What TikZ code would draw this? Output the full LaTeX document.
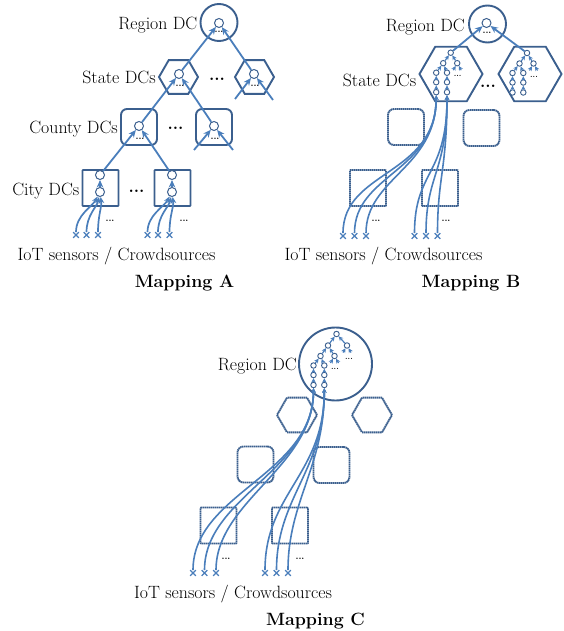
\documentclass[tikz,border=0pt]{standalone}
\usepackage{tikz}
\usetikzlibrary{shapes.geometric, shapes.misc, arrows.meta, positioning}

\definecolor{dcblue}{HTML}{3B5F8E}
\definecolor{linkblue}{HTML}{4A7EBB}

\tikzset{
  minitree/.pic={
    \node[mnode] (-r) at (0,0) {};
    \node[mnode] (-a) at (-7.5,10.5) {};
    \node[mnode] (-b) at (6.5,10.5) {};
    \node[mnode] (-c) at (-14.5,20) {};
    \node[mnode] (-d) at (-3.7,20) {};
    \node[mnode] (-e) at (-14.5,29.5) {};
    \node[mnode] (-f) at (-3.7,29.5) {};
    \node[mnode] (-g) at (-14.5,39.5) {};
    \node[mnode] (-h) at (-3.7,39.5) {};
    \node[mdots] (-dots) at (7,23.5) {...};
    \coordinate (-bl) at (2.5,17.5);
    \coordinate (-br) at (10.5,17.5);
    \draw[mlink] (-a) -- (-r);
    \draw[mlink] (-b) -- (-r);
    \draw[mlink] (-bl) -- (-b);
    \draw[mlink] (-br) -- (-b);
    \draw[mlink] (-c) -- (-a);
    \draw[mlink] (-d) -- (-a);
    \draw[mlink] (-e) -- (-c);
    \draw[mlink] (-f) -- (-d);
    \draw[mlink] (-g) -- (-e);
    \draw[mlink] (-h) -- (-f);
  }
}

\begin{document}
\begin{tikzpicture}[x=1pt, y=-1pt,
  lab/.style={font=\fontsize{17.8}{21}\selectfont, inner sep=1pt},
  title/.style={font=\fontsize{17.8}{21}\selectfont\bfseries, inner sep=1pt},
  bigdots/.style={font=\fontsize{17}{20}\selectfont\bfseries, inner sep=0pt},
  sdots/.style={font=\fontsize{9}{9}\selectfont\bfseries, inner sep=0pt},
  mdots/.style={font=\fontsize{7}{7}\selectfont\bfseries, inner sep=0pt},
  solidbox/.style={draw=dcblue, line width=1.9pt, inner sep=0pt},
  dotbox/.style={draw=dcblue, line width=1.9pt, inner sep=0pt, line join=round, dash pattern=on 1.5pt off 0.5pt},
  regionshape/.style={circle},
  hexshape/.style={regular polygon, regular polygon sides=6},
  countyshape/.style={rectangle, rounded corners=6pt, minimum size=36pt},
  cityshape/.style={rectangle, rounded corners=0.6pt, minimum size=36pt},
  dcnode/.style={circle, draw=dcblue, fill=white, line width=1pt, minimum size=9pt, inner sep=0pt},
  mnode/.style={circle, draw=dcblue, fill=white, line width=0.9pt, minimum size=5.5pt, inner sep=0pt},
  link/.style={draw=linkblue, line width=1.8pt, -{Stealth[length=7.5pt, width=6.5pt]}},
  mlink/.style={draw=linkblue, line width=1.2pt, -{Stealth[length=4.5pt, width=4.5pt]}},
  slink/.style={draw=linkblue, line width=1.7pt, -{Stealth[length=6.5pt, width=5.5pt]}},
  sslink/.style={draw=linkblue, line width=1.6pt, -{Stealth[length=4.5pt, width=4.5pt]}},
  sensor/.style={cross out, draw=linkblue, line width=1.2pt, minimum size=4.5pt, inner sep=0pt},
]
\useasboundingbox (0,0) rectangle (564,631);

% ---- Mapping A
\node[solidbox, regionshape, minimum size=37pt] (regA) at (219,22.5) {};
\node[lab, left=1pt of regA, yshift=-3pt] (regAlab) {Region DC};
\node[solidbox, hexshape, minimum size=39pt] (hexA1) at (178.5,77) {};
\node[solidbox, hexshape, minimum size=39pt] (hexA2) at (254.5,77) {};
\node[lab, left=1pt of hexA1] (hexAlab) {State DCs};
\node[bigdots] (hexAdots) at (217,79) {...};
\node[solidbox, countyshape] (couA1) at (139,127) {};
\node[solidbox, countyshape] (couA2) at (214,127) {};
\node[lab, left=1pt of couA1, yshift=-2pt] (couAlab) {County DCs};
\node[bigdots] (couAdots) at (175.5,128) {...};
\node[solidbox, cityshape] (citA1) at (100.5,188) {};
\node[solidbox, cityshape] (citA2) at (172.5,188) {};
\node[lab, left=1pt of citA1, yshift=-3pt] (citAlab) {City DCs};
\node[bigdots] (citAdots) at (136.5,191) {...};

\node[dcnode] (rA) at (219,23) {};
\node[sdots] (rAdots) at (219,32) {...};
\node[dcnode] (sA1) at (179,74) {};
\node[sdots] (sA1dots) at (180,86) {...};
\node[dcnode] (sA2) at (254,74) {};
\node[sdots] (sA2dots) at (255,86) {...};
\node[dcnode] (cA1) at (139,126) {};
\node[sdots] (cA1dots) at (140,139) {...};
\node[dcnode] (cA2) at (214,126) {};
\node[sdots] (cA2dots) at (215,139) {...};
\node[dcnode] (tA1) at (100,175) {};
\node[dcnode] (bA1) at (100,192) {};
\node[dcnode] (tA2) at (172,175) {};
\node[dcnode] (bA2) at (172,192) {};

\coordinate (sA2l) at (235,99);
\coordinate (sA2r) at (273,100);
\coordinate (cA2l) at (194,150);
\coordinate (cA2r) at (233,150);
\draw[link] (sA1) -- (rA);
\draw[link] (sA2) -- (rA);
\draw[link] (sA2l) -- (sA2);
\draw[link] (sA2r) -- (sA2);
\draw[link] (cA1) -- (sA1);
\draw[link] (cA2) -- (sA1);
\draw[link] (cA2l) -- (cA2);
\draw[link] (cA2r) -- (cA2);
\draw[link] (tA1) -- (cA1);
\draw[link] (tA2) -- (cA1);
\draw[link] (bA1) -- (tA1);
\draw[link] (bA2) -- (tA2);

\foreach \i/\x in {1/76, 2/86.5, 3/98} {
  \node[sensor] (sAl\i) at (\x,235) {};
  \node[sensor] (sAr\i) at (\x+71.5,235) {};
}
\foreach \i/\dx in {1/-8, 2/-3, 3/2} {
  \draw[slink] (sAl\i) .. controls +(0,-20) and +(\dx,15) .. (bA1);
  \draw[slink] (sAr\i) .. controls +(0,-20) and +(\dx,15) .. (bA2);
}
\node[sdots] (sAldots) at (110,221) {...};
\node[sdots] (sArdots) at (184,221) {...};

\node[lab] (iotA) at (116.5,256) {IoT sensors / Crowdsources};
\node[title] (mapA) at (184.5,283) {Mapping A};

% ---- Mapping B
\node[solidbox, regionshape, minimum size=37pt] (regB) at (487.5,24) {};
\node[lab, left=2pt of regB, yshift=-3pt] (regBlab) {Region DC};
\node[solidbox, hexshape, minimum size=63pt] (hexB1) at (451,74) {};
\node[solidbox, hexshape, minimum size=63pt] (hexB2) at (530,74) {};
\node[lab, left=1pt of hexB1, yshift=-6pt] (hexBlab) {State DCs};
\node[bigdots] (hexBdots) at (488,86) {...};
\node[dotbox, countyshape] (couB1) at (406,127) {};
\node[dotbox, countyshape] (couB2) at (481.5,128) {};
\node[dotbox, cityshape] (citB1) at (368,188) {};
\node[dotbox, cityshape] (citB2) at (440,188) {};

\node[dcnode] (rB) at (486.5,23) {};
\node[sdots] (rBdots) at (487,33) {...};
\pic (tl) at (450.7,52.7) {minitree};
\pic (tr) at (527,53) {minitree};
\draw[link] (tl-r) -- (rB);
\draw[link] (tr-r) -- (rB);

\foreach \i/\x/\a/\b in {1/343/66/84, 2/354.5/62/80, 3/366/58/76} {
  \node[sensor] (sBl\i) at (\x,236) {};
  \node[sensor] (sBr\i) at (\x+71.5,236) {};
  \draw[sslink] (sBl\i) .. controls +(0,-\a) and +(0,\b) .. (tl-g);
  \draw[sslink] (sBr\i) .. controls +(0,-\a) and +(0,\b) .. (tl-h);
}
\node[sdots] (sBldots) at (376,221) {...};
\node[sdots] (sBrdots) at (446,221) {...};

\node[lab] (iotB) at (383.5,256) {IoT sensors / Crowdsources};
\node[title] (mapB) at (471,283) {Mapping B};

% ---- Mapping C
\node[solidbox, regionshape, minimum size=73pt] (regC) at (335.5,364) {};
\node[lab, left=0pt of regC, yshift=-2pt] (regClab) {Region DC};
\node[dotbox, hexshape, minimum size=40pt] (hexC1) at (297,415) {};
\node[dotbox, hexshape, minimum size=40pt] (hexC2) at (372,415) {};
\node[dotbox, countyshape] (couC1) at (255.5,464.5) {};
\node[dotbox, countyshape] (couC2) at (331.5,465) {};
\node[dotbox, cityshape] (citC1) at (218.5,525.5) {};
\node[dotbox, cityshape] (citC2) at (290,525.5) {};

\node[mnode] (rC) at (336.5,334) {};
\node[mnode] (sC2) at (347,345.5) {};
\node[mdots] (sC2dots) at (349,358.5) {...};
\coordinate (sC2l) at (343,352.5);
\coordinate (sC2r) at (351,352.5);
\pic (tc) at (328,345.5) {minitree};
\draw[mlink] (tc-r) -- (rC);
\draw[mlink] (sC2) -- (rC);
\draw[mlink] (sC2l) -- (sC2);
\draw[mlink] (sC2r) -- (sC2);

\foreach \i/\x/\a/\b in {1/193/80/90, 2/204.5/76/86, 3/216/72/82} {
  \node[sensor] (sCl\i) at (\x,573) {};
  \node[sensor] (sCr\i) at (\x+72,573) {};
  \draw[sslink] (sCl\i) .. controls +(0,-\a) and +(0,\b) .. (tc-g);
  \draw[sslink] (sCr\i) .. controls +(0,-\a) and +(0,\b) .. (tc-h);
}
\node[sdots] (sCldots) at (226,559) {...};
\node[sdots] (sCrdots) at (300,559) {...};

\node[lab] (iotC) at (233,594) {IoT sensors / Crowdsources};
\node[title] (mapC) at (315.5,621) {Mapping C};
\end{tikzpicture}
\end{document}
